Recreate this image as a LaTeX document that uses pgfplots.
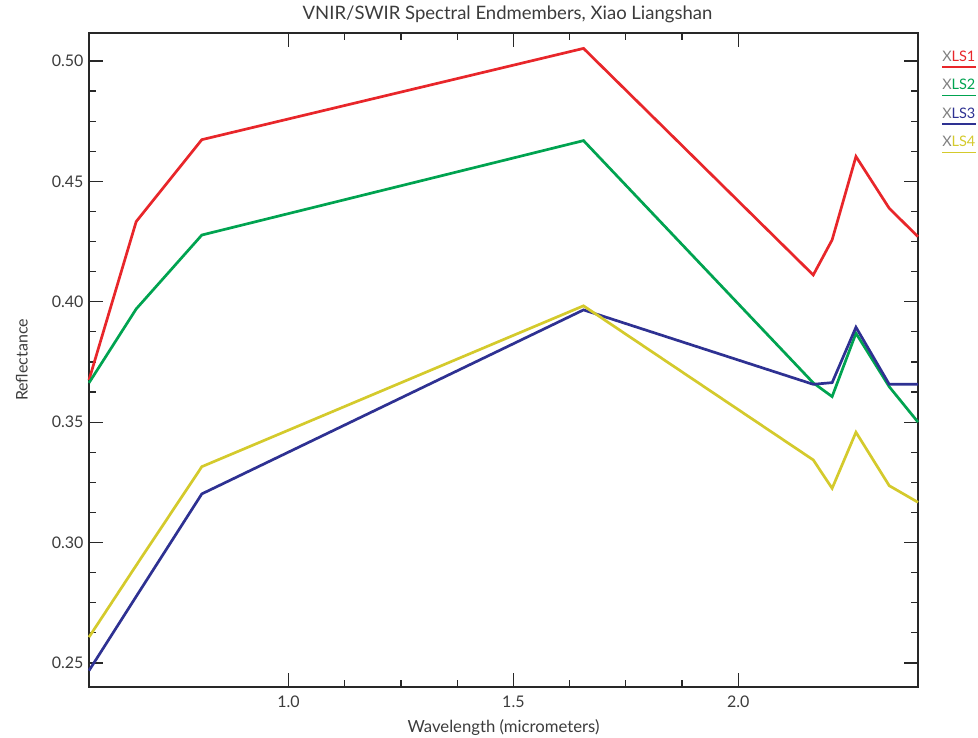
\documentclass[border=0pt]{standalone}
\usepackage{pgfplots}
\pgfplotsset{compat=1.18}
\usepackage{fontspec}
\setmainfont{Lato}
\definecolor{cred}{RGB}{232,38,42}
\definecolor{cgreen}{RGB}{0,163,80}
\definecolor{cblue}{RGB}{46,49,146}
\definecolor{cyellow}{RGB}{212,202,44}
\definecolor{axgray}{RGB}{40,40,40}
\definecolor{txtgray}{RGB}{60,60,60}
\begin{document}
\begin{tikzpicture}
\useasboundingbox (0,0) rectangle (978pt,738pt);
\begin{axis}[
  at={(89pt,51pt)}, anchor=south west,
  scale only axis, width=829pt, height=654pt,
  xmin=0.556, xmax=2.400, ymin=0.24, ymax=0.5116,
  xtick={1.0,1.5,2.0}, ytick={0.25,0.30,0.35,0.40,0.45,0.50},
  minor x tick num=3, minor y tick num=3,
  xticklabels={1.0,1.5,2.0},
  yticklabels={0.25,0.30,0.35,0.40,0.45,0.50},
  tick align=inside, tick pos=both,
  major tick length=14pt, minor tick length=7pt,
  every tick/.style={axgray, line width=1.2pt},
  axis line style={axgray, line width=1.2pt},
  ticklabel style={font=\fontsize{16}{16}\selectfont, text=txtgray},
  xticklabel style={yshift=-5pt},
  yticklabel style={xshift=-2pt},
  /pgf/number format/assume math mode=true,
  title={VNIR/SWIR Spectral Endmembers, Xiao Liangshan},
  title style={at={(axis description cs:0.5,1.012)}, anchor=base, font=\fontsize{18.5}{18.5}\selectfont, text=txtgray, xshift=4pt},
  xlabel={Wavelength (micrometers)},
  xlabel style={at={(axis description cs:0.5,-0.0703)}, anchor=base, font=\fontsize{16.7}{16.7}\selectfont, text=txtgray},
  ylabel={Reflectance},
  ylabel style={at={(axis description cs:-0.081,0.5)}, anchor=center, font=\fontsize{16}{16}\selectfont, text=txtgray},
  clip=false,
  every axis plot/.append style={line width=2.7pt},
]
\addplot[cred] coordinates {(0.556,0.3675) (0.661,0.4333) (0.807,0.4673) (1.656,0.5052) (2.167,0.4111) (2.209,0.4257) (2.262,0.4603) (2.336,0.4388) (2.400,0.4270)};
\addplot[cgreen] coordinates {(0.556,0.3663) (0.661,0.3970) (0.807,0.4277) (1.656,0.4669) (2.167,0.3663) (2.209,0.3606) (2.262,0.3869) (2.336,0.3647) (2.400,0.3500)};
\addplot[cblue] coordinates {(0.556,0.2468) (0.661,0.2776) (0.807,0.3202) (1.656,0.3966) (2.167,0.3657) (2.209,0.3664) (2.262,0.3894) (2.336,0.3657) (2.400,0.3657)};
\addplot[cyellow] coordinates {(0.556,0.2607) (0.661,0.2905) (0.807,0.3315) (1.656,0.3983) (2.167,0.3343) (2.209,0.3225) (2.262,0.3458) (2.336,0.3236) (2.400,0.3167)};
\node[anchor=base west, inner sep=0, font=\fontsize{14.5}{14.5}\selectfont] (l1) at (rel axis cs:1.029,0.957) {\textcolor{gray}{X}\textcolor{cred}{LS1}};
\draw[cred, line width=1.5pt] ([yshift=-6pt]l1.base west) -- ([yshift=-6pt]l1.base east);
\node[anchor=base west, inner sep=0, font=\fontsize{14.5}{14.5}\selectfont] (l2) at (rel axis cs:1.029,0.9134) {\textcolor{gray}{X}\textcolor{cgreen}{LS2}};
\draw[cgreen, line width=1.5pt] ([yshift=-6pt]l2.base west) -- ([yshift=-6pt]l2.base east);
\node[anchor=base west, inner sep=0, font=\fontsize{14.5}{14.5}\selectfont] (l3) at (rel axis cs:1.029,0.8698) {\textcolor{gray}{X}\textcolor{cblue}{LS3}};
\draw[cblue, line width=1.5pt] ([yshift=-6pt]l3.base west) -- ([yshift=-6pt]l3.base east);
\node[anchor=base west, inner sep=0, font=\fontsize{14.5}{14.5}\selectfont] (l4) at (rel axis cs:1.029,0.8262) {\textcolor{gray}{X}\textcolor{cyellow}{LS4}};
\draw[cyellow, line width=1.5pt] ([yshift=-6pt]l4.base west) -- ([yshift=-6pt]l4.base east);
\end{axis}
\end{tikzpicture}
\end{document}
